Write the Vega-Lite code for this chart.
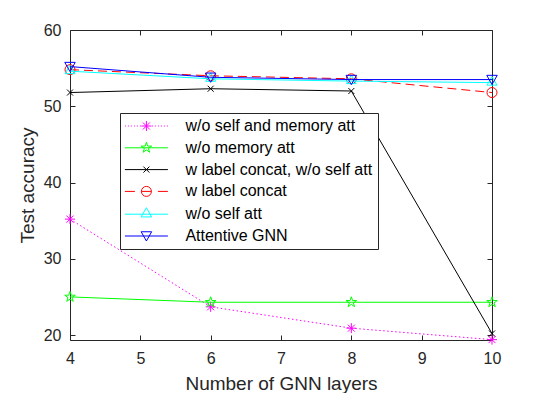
{
  "$schema": "https://vega.github.io/schema/vega-lite/v6.json",
  "width": 422,
  "height": 310,
  "autosize": {"type": "none"},
  "padding": {"left": 70, "top": 30, "right": 47, "bottom": 53},
  "background": "white",
  "data": {
    "values": [
      {"series": "w/o self and memory att", "layers": 4, "acc": 35.2},
      {"series": "w/o self and memory att", "layers": 6, "acc": 23.7},
      {"series": "w/o self and memory att", "layers": 8, "acc": 20.9},
      {"series": "w/o self and memory att", "layers": 10, "acc": 19.4},
      {"series": "w/o memory att", "layers": 4, "acc": 25.0},
      {"series": "w/o memory att", "layers": 6, "acc": 24.3},
      {"series": "w/o memory att", "layers": 8, "acc": 24.3},
      {"series": "w/o memory att", "layers": 10, "acc": 24.3},
      {"series": "w label concat, w/o self att", "layers": 4, "acc": 51.8},
      {"series": "w label concat, w/o self att", "layers": 6, "acc": 52.3},
      {"series": "w label concat, w/o self att", "layers": 8, "acc": 52.0},
      {"series": "w label concat, w/o self att", "layers": 10, "acc": 20.2},
      {"series": "w label concat", "layers": 4, "acc": 54.8},
      {"series": "w label concat", "layers": 6, "acc": 54.0},
      {"series": "w label concat", "layers": 8, "acc": 53.6},
      {"series": "w label concat", "layers": 10, "acc": 51.8},
      {"series": "w/o self att", "layers": 4, "acc": 54.6},
      {"series": "w/o self att", "layers": 6, "acc": 53.6},
      {"series": "w/o self att", "layers": 8, "acc": 53.3},
      {"series": "w/o self att", "layers": 10, "acc": 53.1},
      {"series": "Attentive GNN", "layers": 4, "acc": 55.2},
      {"series": "Attentive GNN", "layers": 6, "acc": 53.8},
      {"series": "Attentive GNN", "layers": 8, "acc": 53.5},
      {"series": "Attentive GNN", "layers": 10, "acc": 53.5}
    ]
  },
  "encoding": {
    "x": {"field": "layers", "type": "quantitative", "scale": {"domain": [4, 10], "nice": false, "zero": false}, "axis": null},
    "y": {"field": "acc", "type": "quantitative", "scale": {"domain": [19.35, 60], "nice": false, "zero": false}, "axis": null}
  },
  "layer": [
    {
      "transform": [{"filter": "datum.series === 'w/o self and memory att'"}],
      "layer": [
        {"mark": {"type": "line", "strokeWidth": 1, "color": "#ff00ff", "strokeDash": [1.5, 2.5]}},
        {"mark": {"type": "point", "filled": false, "size": 100, "strokeWidth": 1, "opacity": 1, "color": "#ff00ff", "shape": "M-1,0L1,0M0,-1L0,1M-0.7,-0.7L0.7,0.7M-0.7,0.7L0.7,-0.7"}}
      ]
    },
    {
      "transform": [{"filter": "datum.series === 'w/o memory att'"}],
      "layer": [
        {"mark": {"type": "line", "strokeWidth": 1, "color": "#00ff00"}},
        {"mark": {"type": "point", "filled": false, "size": 100, "strokeWidth": 1, "opacity": 1, "color": "#00ff00", "shape": "M0,-1.1L0.25,-0.34L1.05,-0.34L0.4,0.13L0.65,0.89L0,0.42L-0.65,0.89L-0.4,0.13L-1.05,-0.34L-0.25,-0.34Z"}}
      ]
    },
    {
      "transform": [{"filter": "datum.series === 'w label concat, w/o self att'"}],
      "layer": [
        {"mark": {"type": "line", "strokeWidth": 1, "color": "#000000"}},
        {"mark": {"type": "point", "filled": false, "size": 100, "strokeWidth": 1, "opacity": 1, "color": "#000000", "shape": "M-0.6,-0.6L0.6,0.6M-0.6,0.6L0.6,-0.6"}}
      ]
    },
    {
      "transform": [{"filter": "datum.series === 'w label concat'"}],
      "layer": [
        {"mark": {"type": "line", "strokeWidth": 1, "color": "#ff0000", "strokeDash": [9, 5]}},
        {"mark": {"type": "point", "filled": false, "size": 100, "strokeWidth": 1, "opacity": 1, "color": "#ff0000", "shape": "M1,0A1,1,0,1,1,-1,0A1,1,0,1,1,1,0Z"}}
      ]
    },
    {
      "transform": [{"filter": "datum.series === 'w/o self att'"}],
      "layer": [
        {"mark": {"type": "line", "strokeWidth": 1, "color": "#00ffff"}},
        {"mark": {"type": "point", "filled": false, "size": 100, "strokeWidth": 1, "opacity": 1, "color": "#00ffff", "shape": "M0,-1.2L1,0.5L-1,0.5Z"}}
      ]
    },
    {
      "transform": [{"filter": "datum.series === 'Attentive GNN'"}],
      "layer": [
        {"mark": {"type": "line", "strokeWidth": 1, "color": "#0000ff"}},
        {"mark": {"type": "point", "filled": false, "size": 100, "strokeWidth": 1, "opacity": 1, "color": "#0000ff", "shape": "M0,1L1.05,-0.85L-1.05,-0.85Z"}}
      ]
    },
    {
      "mark": {"type": "point", "filled": false, "size": 100, "strokeWidth": 1, "opacity": 0},
      "encoding": {
        "x": {"field": "layers", "type": "quantitative",
          "axis": {"orient": "bottom", "values": [4, 5, 6, 7, 8, 9, 10], "title": "Number of GNN layers", "labelPadding": 15, "titlePadding": 8}},
        "y": {"field": "acc", "type": "quantitative",
          "axis": {"orient": "left", "values": [20, 30, 40, 50, 60], "title": "Test accuracy", "labelPadding": 14, "titlePadding": 6}},
        "color": {
          "field": "series", "type": "nominal",
          "scale": {
            "domain": ["w/o self and memory att", "w/o memory att", "w label concat, w/o self att", "w label concat", "w/o self att", "Attentive GNN"],
            "range": ["#ff00ff", "#00ff00", "#000000", "#ff0000", "#00ffff", "#0000ff"]
          },
          "legend": {
            "title": null,
            "orient": "none",
            "legendX": 50,
            "legendY": 83,
            "symbolSize": 100,
            "symbolOffset": 13.4,
            "symbolStrokeWidth": 1,
            "symbolOpacity": 1,
            "labelOffset": 31
          }
        },
        "shape": {
          "field": "series", "type": "nominal",
          "scale": {
            "domain": ["w/o self and memory att", "w/o memory att", "w label concat, w/o self att", "w label concat", "w/o self att", "Attentive GNN"],
            "range": [
              "M-4.3,0L-4.1,0M-3.7,0L-3.5,0M-3.1,0L-2.9,0M-2.5,0L-2.3,0M-1.9,0L-1.7,0M-1.3,0L-1.1,0M1.1,0L1.3,0M1.7,0L1.9,0M2.3,0L2.5,0M2.9,0L3.1,0M3.5,0L3.7,0M4.1,0L4.3,0M-1,0L1,0M0,-1L0,1M-0.7,-0.7L0.7,0.7M-0.7,0.7L0.7,-0.7",
              "M-4.3,0L4.3,0M0,-1.1L0.25,-0.34L1.05,-0.34L0.4,0.13L0.65,0.89L0,0.42L-0.65,0.89L-0.4,0.13L-1.05,-0.34L-0.25,-0.34Z",
              "M-4.3,0L4.3,0M-0.6,-0.6L0.6,0.6M-0.6,0.6L0.6,-0.6",
              "M-4.3,0L-2.3,0M2.3,0L4.3,0M-1,0L1,0M1,0A1,1,0,1,1,-1,0A1,1,0,1,1,1,0Z",
              "M-4.3,0L4.3,0M0,-1.3L1.05,0.55L-1.05,0.55Z",
              "M-4.3,0L4.3,0M0,1L1.05,-0.85L-1.05,-0.85Z"
            ]
          },
          "legend": {
            "title": null,
            "orient": "none",
            "legendX": 50,
            "legendY": 83,
            "symbolSize": 100,
            "symbolOffset": 13.4,
            "symbolStrokeWidth": 1,
            "symbolOpacity": 1,
            "labelOffset": 31
          }
        }
      }
    },
    {
      "mark": {"type": "point", "size": 1, "opacity": 0},
      "encoding": {
        "x": {"field": "layers", "type": "quantitative",
          "axis": {"orient": "top", "values": [4, 5, 6, 7, 8, 9, 10], "labels": false, "title": null}},
        "y": {"field": "acc", "type": "quantitative",
          "axis": {"orient": "right", "values": [20, 30, 40, 50, 60], "labels": false, "title": null}}
      }
    }
  ],
  "config": {
    "view": {"stroke": null},
    "font": "Liberation Sans",
    "axis": {
      "grid": false,
      "domainColor": "#262626",
      "domainWidth": 1,
      "tickColor": "#262626",
      "tickSize": -5,
      "tickWidth": 1,
      "labelFont": "Liberation Sans",
      "labelFontSize": 16,
      "labelColor": "#262626",
      "titleFont": "Liberation Sans",
      "titleFontSize": 19,
      "titleFontWeight": "normal",
      "titleColor": "#262626",
      "labelFlush": false,
      "labelOverlap": false
    },
    "legend": {
      "labelFont": "Liberation Sans",
      "labelFontSize": 16,
      "labelColor": "#000000",
      "strokeColor": "#262626",
      "fillColor": "white",
      "padding": 5,
      "rowPadding": 5.8,
      "labelLimit": 400
    }
  }
}
